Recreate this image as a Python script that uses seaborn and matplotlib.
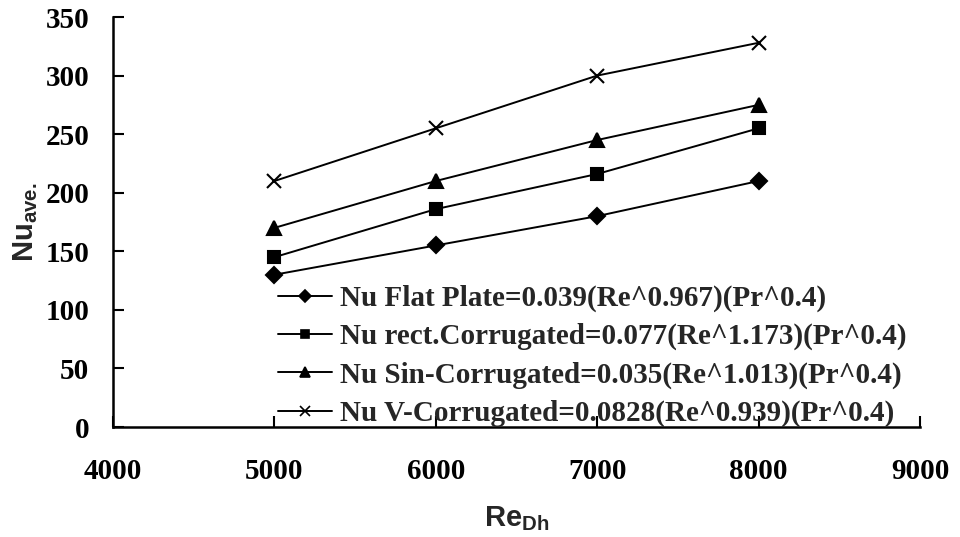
import matplotlib
matplotlib.use("Agg")
import matplotlib.pyplot as plt
from matplotlib.lines import Line2D
import seaborn as sns
import pandas as pd

# Reynolds numbers and Nusselt correlations
re_dh = [5000, 6000, 7000, 8000]
nu_flat = [130, 155, 180, 210]
nu_rect = [145, 186, 216, 255]
nu_sin = [170, 210, 245, 275]
nu_v = [210, 255, 300, 328]

series_names = [
    "Nu Flat Plate=0.039(Re^0.967)(Pr^0.4)",
    "Nu rect.Corrugated=0.077(Re^1.173)(Pr^0.4)",
    "Nu Sin-Corrugated=0.035(Re^1.013)(Pr^0.4)",
    "Nu V-Corrugated=0.0828(Re^0.939)(Pr^0.4)",
]
series_values = [nu_flat, nu_rect, nu_sin, nu_v]
series_markers = ["D", "s", "^", "x"]

x_ticks = [4000, 5000, 6000, 7000, 8000, 9000]
y_ticks = [0, 50, 100, 150, 200, 250, 300, 350]

sns.set_style("ticks")
plt.rcParams["font.family"] = ["Liberation Serif", "DejaVu Serif"]
plt.rcParams["mathtext.fontset"] = "custom"
plt.rcParams["mathtext.bf"] = "Liberation Sans:bold"
plt.rcParams["mathtext.rm"] = "Liberation Sans:bold"

fig = plt.figure(figsize=(9.6, 5.37), dpi=100)
ax = fig.add_axes([0.1177, 0.2048, 0.8406, 0.7635])

plot_sizes = {"D": 8, "s": 8, "^": 10, "x": 10}
for name, vals, mk in zip(series_names, series_values, series_markers):
    df = pd.DataFrame({"Re": re_dh, "Nu": vals})
    sns.lineplot(data=df, x="Re", y="Nu", ax=ax, color="black",
                 linewidth=1.4, marker=mk, markersize=plot_sizes[mk],
                 markeredgewidth=1.5, markeredgecolor="black",
                 markerfacecolor="black")

ax.set_xlim(4000, 9000)
ax.set_ylim(0, 350)
ax.set_xticks(x_ticks)
ax.set_yticks(y_ticks)
ax.set_xticklabels([str(t) for t in x_ticks], fontsize=21, fontweight="bold")
ax.set_yticklabels([str(t) for t in y_ticks], fontsize=21, fontweight="bold")
ax.tick_params(direction="in", length=8, width=1.5, colors="black")
ax.tick_params(axis="y", pad=17)
ax.tick_params(axis="x", pad=22)
for side in ("top", "right"):
    ax.spines[side].set_visible(False)
for side in ("left", "bottom"):
    ax.spines[side].set_linewidth(1.8)
    ax.spines[side].set_color("black")

ax.set_xlabel(r"$\mathbf{Re_{Dh}}$", fontsize=21, labelpad=14)
ax.set_ylabel(r"$\mathbf{Nu_{ave.}}$", fontsize=21, labelpad=4)

handle_sizes = {"D": 6, "s": 6, "^": 7, "x": 7}
handles = [Line2D([0], [0], color="black", lw=1.4, marker=mk,
                  markersize=handle_sizes[mk], markeredgewidth=1.2)
           for mk in series_markers]
ax.legend(handles, series_names, loc="upper left",
          bbox_to_anchor=(0.2045, 0.347), frameon=False, borderpad=0,
          borderaxespad=0, handlelength=1.85, handletextpad=0.27,
          labelspacing=0.38, prop={"family": "Liberation Serif",
                                   "weight": "bold", "size": 21})

fig.savefig("out.png", dpi=100, facecolor="white")
